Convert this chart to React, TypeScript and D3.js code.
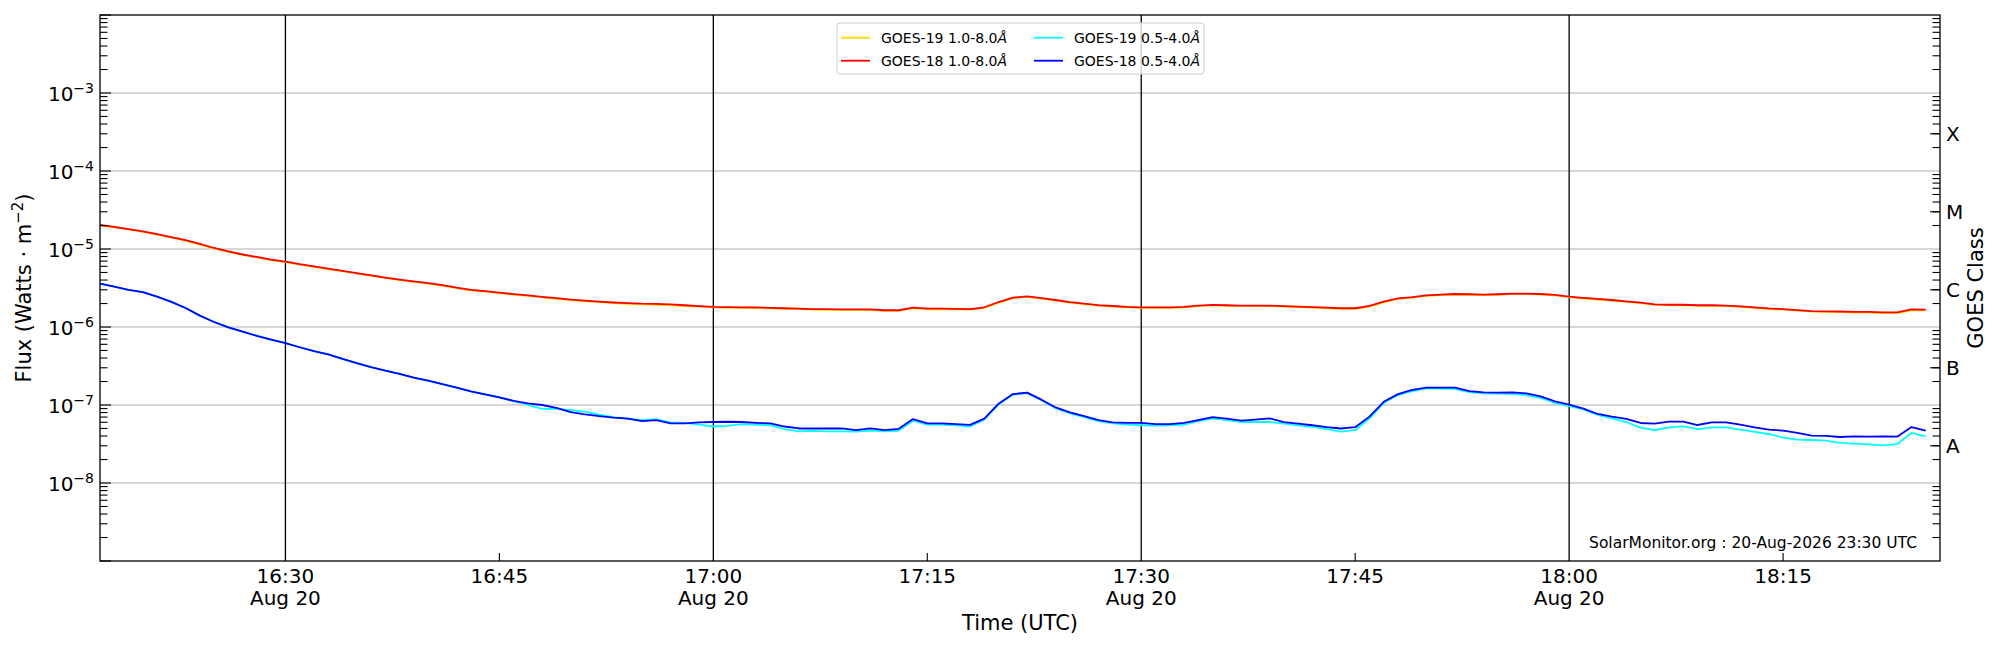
import * as d3 from 'd3'

// time span of the plot (UTC) and tick labels
const START = '2026-08-20T16:17:00Z'
const END = '2026-08-20T18:26:00Z'
const majorTicks = ['16:30', '17:00', '17:30', '18:00']
const minorTicks = ['16:45', '17:15', '17:45', '18:15']
const dateLabel = 'Aug 20'
const decadeLabels = [-3, -4, -5, -6, -7, -8]
const classNames = ['A', 'B', 'C', 'M', 'X']
const classLevels = [3e-8, 3e-7, 3e-6, 3e-5, 3e-4]

// one value per minute from 16:17 to 18:25
const goes19Long = [
  2.0e-5, 1.9e-5, 1.78e-5, 1.66e-5, 1.53e-5, 1.4e-5, 1.28e-5, 1.14e-5, 1.02e-5, 9.2e-6,
  8.4e-6, 7.8e-6, 7.2e-6, 6.8e-6, 6.3e-6, 5.9e-6, 5.5e-6, 5.2e-6, 4.85e-6, 4.55e-6,
  4.25e-6, 4.0e-6, 3.8e-6, 3.6e-6, 3.4e-6, 3.15e-6, 2.96e-6, 2.84e-6, 2.72e-6, 2.6e-6,
  2.5e-6, 2.4e-6, 2.3e-6, 2.21e-6, 2.14e-6, 2.08e-6, 2.02e-6, 1.98e-6, 1.95e-6, 1.93e-6,
  1.9e-6, 1.86e-6, 1.82e-6, 1.78e-6, 1.77e-6, 1.76e-6, 1.75e-6, 1.73e-6, 1.71e-6, 1.69e-6,
  1.67e-6, 1.66e-6, 1.65e-6, 1.65e-6, 1.65e-6, 1.61e-6, 1.61e-6, 1.74e-6, 1.69e-6, 1.69e-6,
  1.68e-6, 1.67e-6, 1.76e-6, 2.05e-6, 2.34e-6, 2.43e-6, 2.32e-6, 2.19e-6, 2.06e-6, 1.96e-6,
  1.88e-6, 1.83e-6, 1.78e-6, 1.76e-6, 1.76e-6, 1.76e-6, 1.78e-6, 1.85e-6, 1.89e-6, 1.87e-6,
  1.85e-6, 1.85e-6, 1.85e-6, 1.82e-6, 1.8e-6, 1.77e-6, 1.74e-6, 1.71e-6, 1.71e-6, 1.82e-6,
  2.07e-6, 2.29e-6, 2.38e-6, 2.51e-6, 2.56e-6, 2.61e-6, 2.59e-6, 2.56e-6, 2.59e-6, 2.64e-6,
  2.64e-6, 2.61e-6, 2.54e-6, 2.41e-6, 2.32e-6, 2.25e-6, 2.18e-6, 2.1e-6, 2.02e-6, 1.92e-6,
  1.9e-6, 1.9e-6, 1.87e-6, 1.87e-6, 1.85e-6, 1.81e-6, 1.76e-6, 1.7e-6, 1.67e-6, 1.62e-6,
  1.57e-6, 1.56e-6, 1.55e-6, 1.53e-6, 1.53e-6, 1.51e-6, 1.51e-6, 1.64e-6, 1.64e-6,
]
const goes18Long = [
  2.03e-5, 1.92e-5, 1.8e-5, 1.68e-5, 1.55e-5, 1.42e-5, 1.3e-5, 1.16e-5, 1.03e-5, 9.3e-6,
  8.5e-6, 7.9e-6, 7.3e-6, 6.9e-6, 6.4e-6, 6.0e-6, 5.6e-6, 5.25e-6, 4.9e-6, 4.6e-6,
  4.3e-6, 4.05e-6, 3.85e-6, 3.65e-6, 3.45e-6, 3.2e-6, 3.0e-6, 2.88e-6, 2.76e-6, 2.64e-6,
  2.54e-6, 2.44e-6, 2.34e-6, 2.25e-6, 2.18e-6, 2.12e-6, 2.06e-6, 2.02e-6, 1.99e-6, 1.98e-6,
  1.95e-6, 1.9e-6, 1.85e-6, 1.81e-6, 1.8e-6, 1.79e-6, 1.78e-6, 1.76e-6, 1.74e-6, 1.72e-6,
  1.7e-6, 1.69e-6, 1.68e-6, 1.68e-6, 1.68e-6, 1.64e-6, 1.64e-6, 1.77e-6, 1.72e-6, 1.72e-6,
  1.71e-6, 1.7e-6, 1.79e-6, 2.09e-6, 2.38e-6, 2.47e-6, 2.35e-6, 2.22e-6, 2.09e-6, 1.99e-6,
  1.91e-6, 1.86e-6, 1.81e-6, 1.79e-6, 1.79e-6, 1.79e-6, 1.81e-6, 1.88e-6, 1.92e-6, 1.9e-6,
  1.88e-6, 1.88e-6, 1.88e-6, 1.85e-6, 1.83e-6, 1.8e-6, 1.77e-6, 1.74e-6, 1.74e-6, 1.86e-6,
  2.11e-6, 2.33e-6, 2.42e-6, 2.55e-6, 2.6e-6, 2.65e-6, 2.63e-6, 2.6e-6, 2.63e-6, 2.68e-6,
  2.68e-6, 2.65e-6, 2.58e-6, 2.45e-6, 2.36e-6, 2.29e-6, 2.22e-6, 2.13e-6, 2.05e-6, 1.95e-6,
  1.93e-6, 1.93e-6, 1.9e-6, 1.9e-6, 1.88e-6, 1.84e-6, 1.79e-6, 1.73e-6, 1.7e-6, 1.65e-6,
  1.6e-6, 1.59e-6, 1.58e-6, 1.56e-6, 1.56e-6, 1.54e-6, 1.54e-6, 1.68e-6, 1.67e-6,
]
const goes19Short = [
  3.6e-6, 3.3e-6, 3.0e-6, 2.8e-6, 2.45e-6, 2.1e-6, 1.75e-6, 1.4e-6, 1.16e-6, 9.9e-7,
  8.7e-7, 7.7e-7, 6.9e-7, 6.2e-7, 5.5e-7, 4.9e-7, 4.45e-7, 3.9e-7, 3.45e-7, 3.05e-7,
  2.75e-7, 2.5e-7, 2.25e-7, 2.05e-7, 1.85e-7, 1.67e-7, 1.5e-7, 1.37e-7, 1.25e-7, 1.12e-7,
  1.0e-7, 8.9e-8, 8.9e-8, 8.6e-8, 8.2e-8, 7.5e-8, 7.0e-8, 6.7e-8, 6.4e-8, 6.6e-8,
  6.0e-8, 5.9e-8, 5.6e-8, 5.3e-8, 5.4e-8, 5.7e-8, 5.6e-8, 5.5e-8, 4.9e-8, 4.6e-8,
  4.65e-8, 4.6e-8, 4.6e-8, 4.55e-8, 4.7e-8, 4.6e-8, 4.7e-8, 6.3e-8, 5.6e-8, 5.6e-8,
  5.5e-8, 5.3e-8, 6.5e-8, 1.02e-7, 1.35e-7, 1.42e-7, 1.15e-7, 9.1e-8, 7.8e-8, 7.0e-8,
  6.2e-8, 5.8e-8, 5.6e-8, 5.5e-8, 5.45e-8, 5.5e-8, 5.6e-8, 6.2e-8, 6.75e-8, 6.4e-8,
  6.05e-8, 6.05e-8, 6.05e-8, 5.76e-8, 5.5e-8, 5.23e-8, 4.9e-8, 4.57e-8, 4.75e-8, 6.75e-8,
  1.06e-7, 1.34e-7, 1.51e-7, 1.63e-7, 1.62e-7, 1.61e-7, 1.46e-7, 1.41e-7, 1.4e-7, 1.39e-7,
  1.34e-7, 1.23e-7, 1.06e-7, 9.7e-8, 8.8e-8, 7.45e-8, 6.75e-8, 6.05e-8, 5.12e-8, 4.78e-8,
  5.17e-8, 5.33e-8, 4.92e-8, 5.17e-8, 5.17e-8, 4.83e-8, 4.51e-8, 4.25e-8, 3.81e-8, 3.59e-8,
  3.56e-8, 3.49e-8, 3.26e-8, 3.19e-8, 3.13e-8, 3.04e-8, 3.16e-8, 4.38e-8, 3.97e-8,
]
const goes18Short = [
  3.6e-6, 3.3e-6, 3.0e-6, 2.8e-6, 2.45e-6, 2.1e-6, 1.75e-6, 1.4e-6, 1.16e-6, 9.9e-7,
  8.7e-7, 7.7e-7, 6.9e-7, 6.2e-7, 5.5e-7, 4.9e-7, 4.45e-7, 3.9e-7, 3.45e-7, 3.05e-7,
  2.75e-7, 2.5e-7, 2.25e-7, 2.05e-7, 1.85e-7, 1.67e-7, 1.5e-7, 1.37e-7, 1.25e-7, 1.13e-7,
  1.05e-7, 1.0e-7, 9.2e-8, 8.1e-8, 7.6e-8, 7.2e-8, 6.9e-8, 6.7e-8, 6.2e-8, 6.4e-8,
  5.8e-8, 5.8e-8, 6.0e-8, 6.05e-8, 6.1e-8, 6.05e-8, 5.9e-8, 5.8e-8, 5.3e-8, 5.0e-8,
  5.0e-8, 5.0e-8, 5.0e-8, 4.75e-8, 5.0e-8, 4.75e-8, 4.95e-8, 6.6e-8, 5.8e-8, 5.8e-8,
  5.7e-8, 5.55e-8, 6.7e-8, 1.04e-7, 1.38e-7, 1.44e-7, 1.17e-7, 9.3e-8, 8.05e-8, 7.2e-8,
  6.4e-8, 6.0e-8, 5.9e-8, 5.9e-8, 5.7e-8, 5.7e-8, 5.9e-8, 6.4e-8, 7.0e-8, 6.7e-8,
  6.3e-8, 6.5e-8, 6.75e-8, 6.05e-8, 5.76e-8, 5.5e-8, 5.2e-8, 5.0e-8, 5.2e-8, 7.1e-8,
  1.1e-7, 1.38e-7, 1.56e-7, 1.67e-7, 1.67e-7, 1.67e-7, 1.51e-7, 1.45e-7, 1.44e-7, 1.45e-7,
  1.41e-7, 1.29e-7, 1.11e-7, 1.01e-7, 9.0e-8, 7.67e-8, 7.08e-8, 6.62e-8, 5.88e-8, 5.76e-8,
  6.11e-8, 6.11e-8, 5.54e-8, 6.0e-8, 6.0e-8, 5.6e-8, 5.17e-8, 4.83e-8, 4.69e-8, 4.38e-8,
  4.05e-8, 4.01e-8, 3.89e-8, 3.97e-8, 3.93e-8, 3.97e-8, 3.93e-8, 5.22e-8, 4.69e-8,
]

const seriesNames = ['GOES-19 1.0-8.0', 'GOES-18 1.0-8.0', 'GOES-19 0.5-4.0', 'GOES-18 0.5-4.0']
const seriesColors = ['#ffd700', '#ff0000', '#00ffff', '#0000ff']
const seriesData = [goes19Long, goes18Long, goes19Short, goes18Short]

const W = 2000
const H = 650
const FONT = 'DejaVu Sans, sans-serif'
const m = { left: 100, right: 1940, top: 15, bottom: 561 }

export default function App() {
  const t0 = new Date(START)
  const x = d3.scaleUtc().domain([t0, new Date(END)]).range([m.left, m.right])
  const y = d3.scaleLog().domain([1e-9, 1e-2]).range([m.bottom, m.top])
  const at = (hm: string) => new Date(`2026-08-20T${hm}:00Z`)
  const times = goes18Long.map((_, i) => d3.utcMinute.offset(t0, i))

  const line = d3.line<number>()
    .x((_, i) => x(times[i]))
    .y(d => y(d))

  // log ticks 1..9 x 10^n
  const logTicks = y.ticks()
  const isDecade = (v: number) => Math.abs(Math.log10(v) - Math.round(Math.log10(v))) < 1e-6

  return (
    <svg width={W} height={H} style={{ position: 'absolute', left: 0, top: 0, background: '#fff' }}
      fontFamily={FONT}>
      <rect width={W} height={H} fill="#fff" />

      {/* horizontal grid */}
      {decadeLabels.map(e => (
        <line key={e} x1={m.left} x2={m.right} y1={y(10 ** e)} y2={y(10 ** e)}
          stroke="#b0b0b0" strokeWidth={1.1} />
      ))}

      {/* vertical lines on major time ticks */}
      {majorTicks.map(t => (
        <line key={t} x1={x(at(t))} x2={x(at(t))} y1={m.top} y2={m.bottom}
          stroke="#000" strokeWidth={1.3} />
      ))}

      {/* data */}
      {seriesData.map((s, i) => (
        <path key={i} d={line(s) as string} fill="none" stroke={seriesColors[i]}
          strokeWidth={1.8} strokeLinejoin="round" />
      ))}

      {/* left ticks */}
      {logTicks.map((v, i) => {
        const yy = y(v)
        if (yy < m.top - 0.5 || yy > m.bottom + 0.5) return null
        const len = isDecade(v) ? 11 : 7.5
        return <line key={`l${i}`} x1={m.left} x2={m.left + len} y1={yy} y2={yy} stroke="#000" strokeWidth={1.1} />
      })}
      {/* right ticks */}
      {logTicks.filter(v => !isDecade(v)).map((v, i) => {
        const yy = y(v)
        if (yy < m.top - 0.5 || yy > m.bottom + 0.5) return null
        return <line key={`r${i}`} x1={m.right - 7.5} x2={m.right} y1={yy} y2={yy} stroke="#000" strokeWidth={1.1} />
      })}
      {classLevels.map((v, i) => (
        <line key={`rc${i}`} x1={m.right - 10} x2={m.right} y1={y(v)} y2={y(v)} stroke="#000" strokeWidth={1.1} />
      ))}

      {/* bottom ticks */}
      {minorTicks.map(t => (
        <line key={t} x1={x(at(t))} x2={x(at(t))} y1={m.bottom} y2={m.bottom - 8}
          stroke="#000" strokeWidth={1.1} />
      ))}

      {/* frame */}
      <rect x={m.left} y={m.top} width={m.right - m.left} height={m.bottom - m.top}
        fill="none" stroke="#000" strokeWidth={1.3} />

      {/* y tick labels */}
      {decadeLabels.map(e => (
        <text key={e} x={94} y={y(10 ** e) + 8} textAnchor="end" fontSize={20} fill="#000">
          10<tspan fontSize={14} dy={-8}>{`\u2212${-e}`}</tspan>
        </text>
      ))}

      {/* x tick labels */}
      {majorTicks.map(t => (
        <g key={t}>
          <text x={x(at(t))} y={583} textAnchor="middle" fontSize={20}>{t}</text>
          <text x={x(at(t))} y={605} textAnchor="middle" fontSize={20}>{dateLabel}</text>
        </g>
      ))}
      {minorTicks.map(t => (
        <text key={t} x={x(at(t))} y={583} textAnchor="middle" fontSize={20}>{t}</text>
      ))}

      {/* GOES class labels */}
      {classNames.map((c, i) => (
        <text key={c} x={1946} y={y(classLevels[i]) + 7} fontSize={20}>{c}</text>
      ))}

      {/* axis titles */}
      <text x={(m.left + m.right) / 2} y={630} textAnchor="middle" fontSize={21}>Time (UTC)</text>
      <text transform={`translate(31,${(m.top + m.bottom) / 2}) rotate(-90)`} textAnchor="middle" fontSize={21}>
        Flux (Watts · m<tspan fontSize={15} dy={-8}>{'\u22122'}</tspan><tspan dy={8}>)</tspan>
      </text>
      <text transform={`translate(1983,${(m.top + m.bottom) / 2}) rotate(-90)`} textAnchor="middle" fontSize={21}>
        GOES Class
      </text>

      {/* watermark */}
      <text x={1917} y={548} textAnchor="end" fontSize={15.5}>SolarMonitor.org : 20-Aug-2026 23:30 UTC</text>

      {/* legend */}
      <g>
        <rect x={837} y={23} width={367} height={51} rx={3} fill="#fff" fillOpacity={0.8}
          stroke="#cccccc" strokeWidth={1} />
        {seriesNames.map((n, i) => {
          const col = Math.floor(i / 2)
          const row = i % 2
          const lx = 841 + col * 193
          const ly = 37.7 + row * 23
          return (
            <g key={n}>
              <line x1={lx} x2={lx + 29} y1={ly} y2={ly} stroke={seriesColors[i]} strokeWidth={1.8} />
              <text x={lx + 40} y={ly + 5} fontSize={14}>
                {n}<tspan fontStyle="italic">Å</tspan>
              </text>
            </g>
          )
        })}
      </g>
    </svg>
  )
}
